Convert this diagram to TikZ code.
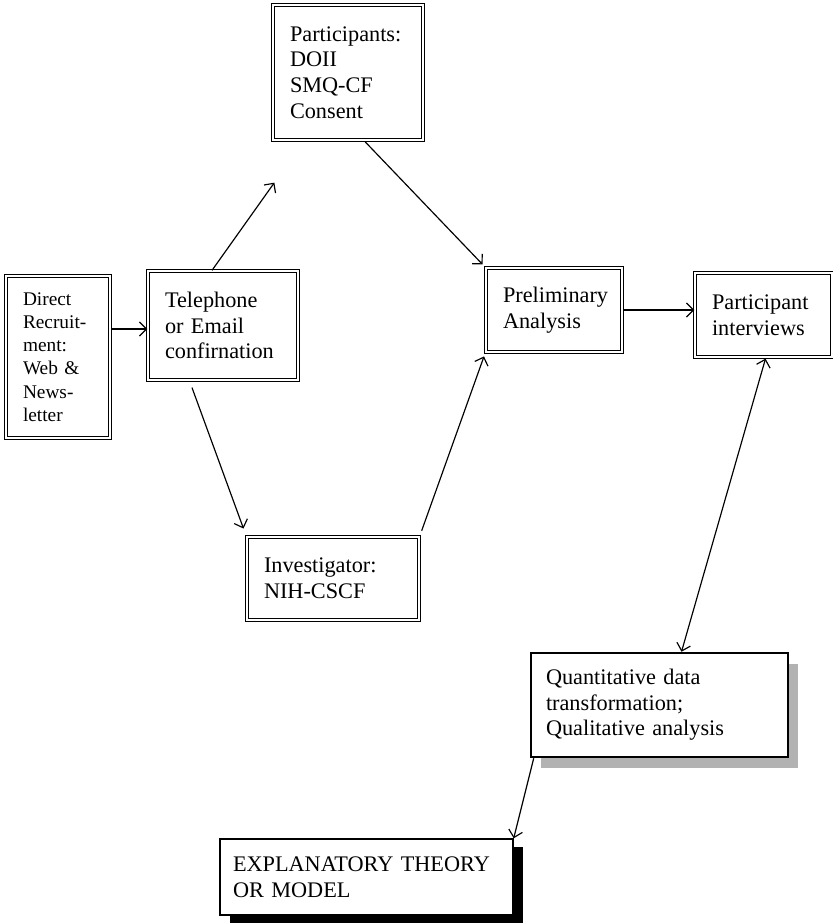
\documentclass[tikz,border=0pt]{standalone}
\usepackage{amsmath}
\usepackage{xcolor}
\usepackage{fontspec}
\setmainfont{Liberation Serif}
\usetikzlibrary{arrows.meta,calc,shadows}

\begin{document}
\begin{tikzpicture}[x=0.3mm,y=-0.3mm]
\tikzstyle{every node}+=[inner xsep=5.1mm, inner ysep=0pt, align=left, font=\fontsize{19}{21.8}\selectfont]
\tikzstyle{dbox}=[draw=black, double, line width=1.1pt, double distance=2pt]
\tikzstyle{arr}=[black, line width=1pt, -{Straight Barb[length=6pt,width=12pt]}]
\useasboundingbox (0,0) rectangle (833,923);
\node [dbox, minimum width=31.2mm, minimum height=48.6mm, text width=21mm, font=\fontsize{16.5}{19.8}\selectfont] (direct) at (58,357) {Direct\\Recruit-\\ment:\\Web \&\\News-\\letter};
\node [dbox, minimum width=45mm, minimum height=32.7mm, text width=34.8mm] (phone) at (223,325.5) {Telephone\\or Email\\confirnation};
\node [dbox, minimum width=45mm, minimum height=40.5mm, text width=34.8mm] (partic) at (348,72.5) {Participants:\\DOII\\SMQ-CF\\Consent};
\node [dbox, minimum width=51.6mm, minimum height=24.9mm, text width=41.4mm] (invest) at (333,578.5) {Investigator:\\NIH-CSCF};
\node [dbox, minimum width=40.8mm, minimum height=25.2mm, text width=30.6mm] (prelim) at (554,310) {Preliminary\\Analysis};
\node [dbox, minimum width=41.1mm, minimum height=25.2mm, text width=30.9mm] (interv) at (763.5,315) {Participant\\interviews};
\node [draw=black, line width=2.2pt, fill=white, minimum width=77.1mm, minimum height=31.2mm, inner xsep=4.5mm, text width=68.1mm,
  drop shadow={shadow xshift=3mm, shadow yshift=-3.3mm, fill=gray!60, opacity=1}] (quant) at (659.5,705) {Quantitative data\\transformation;\\Qualitative analysis};
\node [draw=black, line width=1.2pt, fill=white, minimum width=87.9mm, minimum height=22.8mm, inner xsep=3.9mm, text width=80.1mm,
  drop shadow={shadow xshift=3mm, shadow yshift=-2.4mm, fill=black, opacity=1}] (theory) at (366.5,877) {EXPLANATORY THEORY\\OR MODEL};
% connectors
\draw [arr] ($(direct.east)+(0,-28)$) -- ($(phone.west)+(0,3.5)$);
\draw [arr] ($(phone.north)+(-11,0)$) -- ($(partic.south west)+(2,42)$);
\draw [arr, shorten >=2.5mm] ($(phone.south)+(-31,7)$) -- (invest.north west);
\draw [arr, shorten >=1.2mm] ($(partic.south)+(17,1)$) -- (prelim.north west);
\draw [arr, shorten <=1.8mm, shorten >=1.2mm] (invest.north east) -- (prelim.south west);
\draw [arr] (prelim.east) -- (prelim.east -| interv.west);
\draw [arr, {Straight Barb[length=6pt,width=12pt]}-{Straight Barb[length=6pt,width=12pt]}] ($(interv.south)+(2,1)$) -- ($(quant.north)+(22,0)$);
\draw [arr] ($(quant.south west)+(4,0)$) -- (theory.north east);
\end{tikzpicture}
\end{document}
